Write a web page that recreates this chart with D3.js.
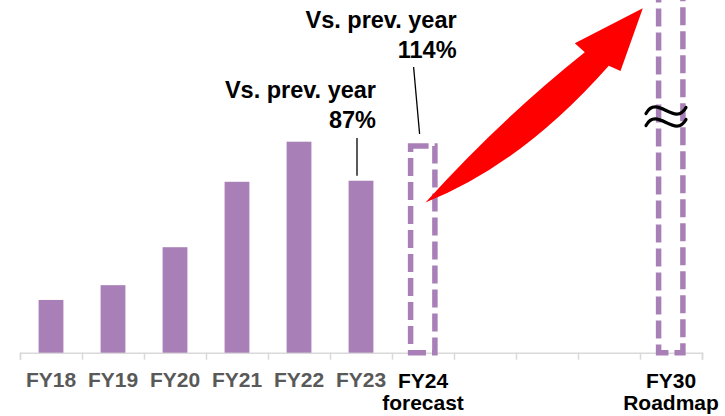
<!DOCTYPE html>
<html>
<head>
<meta charset="utf-8">
<script src="https://cdn.jsdelivr.net/npm/d3@7/dist/d3.min.js"></script>
<style>
  body { margin: 0; background: #fff; }
  svg { display: block; font-family: "Liberation Sans", Arial, sans-serif; }
</style>
</head>
<body>
<div id="chart"></div>
<script>
// categories on the x axis (3 empty slots between FY24 and FY30)
var categories = ["FY18", "FY19", "FY20", "FY21", "FY22", "FY23", "FY24", "gap1", "gap2", "gap3", "FY30"];

// actual results (solid bars)
var actualYears = ["FY18", "FY19", "FY20", "FY21", "FY22", "FY23"];
var actualValues = [25, 32, 50, 81, 100, 81.5];

// forecast / roadmap (dashed outlines)
var planYears = ["FY24", "FY30"];
var planValues = [98, 175];

// tick labels (first line, second line)
var tickLabels = ["FY18", "FY19", "FY20", "FY21", "FY22", "FY23", "FY24", "", "", "", "FY30"];
var tickSubLabels = ["", "", "", "", "", "", "forecast", "", "", "", "Roadmap"];

// year-on-year callouts
var calloutYears = ["FY23", "FY24"];
var calloutTexts = ["87%", "114%"];

var svgWidth = 725;
var svgHeight = 416;

var svg = d3.select("#chart")
    .append("svg")
    .attr("width", svgWidth)
    .attr("height", svgHeight);

var purple = "#a880b7";
var baseY = 352.7;

var x = d3.scaleBand()
    .domain(categories)
    .range([20, 702])
    .paddingInner(0.6)
    .paddingOuter(0.3);

var y = d3.scaleLinear()
    .domain([0, 100])
    .range([baseY, 141.7]);

// axis: ticks sit on the borders between categories
var edge = d3.scaleLinear()
    .domain([0, categories.length])
    .range([20, 702]);

var axis = svg.append("g")
    .attr("transform", `translate(0, ${baseY})`)
    .call(d3.axisBottom(edge)
        .tickValues(d3.range(categories.length + 1))
        .tickSize(7)
        .tickFormat(""));
axis.selectAll("path, line")
    .attr("stroke", "#d9d9d9")
    .attr("stroke-width", 1.5);

function cx(name) { return x(name) + x.bandwidth() / 2; }

// solid bars
var actual = actualYears.map((d, i) => ({ year: d, value: actualValues[i] }));
svg.selectAll("rect.bar")
    .data(actual)
    .enter()
    .append("rect")
    .attr("class", "bar")
    .attr("x", d => x(d.year))
    .attr("y", d => y(d.value))
    .attr("width", x.bandwidth())
    .attr("height", d => baseY - y(d.value))
    .attr("fill", purple);

// dashed outlines
var plan = planYears.map((d, i) => ({ year: d, value: planValues[i] }));
svg.selectAll("rect.plan")
    .data(plan)
    .enter()
    .append("rect")
    .attr("class", "plan")
    .attr("x", d => x(d.year))
    .attr("y", d => y(d.value))
    .attr("width", x.bandwidth() - 0.5)
    .attr("height", d => baseY - y(d.value))
    .attr("fill", "none")
    .attr("stroke", purple)
    .attr("stroke-width", 5.5)
    .attr("stroke-dasharray", "18 6");

// tick labels
var labels = svg.append("g")
    .attr("font-size", "21px")
    .attr("font-weight", "bold")
    .attr("text-anchor", "middle");

categories.forEach(function (c, i) {
    if (!tickLabels[i]) return;
    var isPlan = tickSubLabels[i] !== "";
    labels.append("text")
        .attr("x", cx(c))
        .attr("y", isPlan ? 387.7 : 386.5)
        .attr("fill", isPlan ? "#000" : "#595959")
        .text(tickLabels[i]);
    if (isPlan) {
        labels.append("text")
            .attr("x", cx(c))
            .attr("y", 410)
            .attr("fill", "#000")
            .text(tickSubLabels[i]);
    }
});

// callouts
var calloutOffsets = [15, 33.6];
var leader = [[-4, 138, -4, 175.7], [-9.4, 67, -3.4, 134]];
var textTop = [98.3, 28.3];
calloutYears.forEach(function (c, i) {
    var g = svg.append("g")
        .attr("font-size", "23.5px")
        .attr("font-weight", "bold")
        .attr("text-anchor", "end")
        .attr("fill", "#000");
    g.append("text")
        .attr("x", cx(c) + calloutOffsets[i])
        .attr("y", textTop[i])
        .text("Vs. prev. year");
    g.append("text")
        .attr("x", cx(c) + calloutOffsets[i])
        .attr("y", textTop[i] + 29.4)
        .text(calloutTexts[i]);
    svg.append("line")
        .attr("x1", cx(c) + leader[i][0])
        .attr("y1", leader[i][1])
        .attr("x2", cx(c) + leader[i][2])
        .attr("y2", leader[i][3])
        .attr("stroke", "#000")
        .attr("stroke-width", 1.3);
});

// red growth arrow, from FY24 towards FY30
var tx = cx("FY24") + 2.5, ty = 202.5;
var arrow = d3.path();
arrow.moveTo(tx, ty);
arrow.quadraticCurveTo(tx + 75, ty - 83, tx + 159.3, ty - 150.2);
arrow.lineTo(tx + 149.3, ty - 159.2);
arrow.lineTo(tx + 217.3, ty - 194.2);
arrow.lineTo(tx + 195, ty - 131.5);
arrow.lineTo(tx + 183.3, ty - 136.8);
arrow.quadraticCurveTo(tx + 96, ty - 38, tx, ty);
arrow.closePath();
svg.append("path")
    .attr("d", arrow.toString())
    .attr("fill", "#ff0000");

// break mark on the FY30 column
var bx = cx("FY30") - 5;
[110.5, 122.5].forEach(function (by) {
    svg.append("path")
        .attr("d", `M${bx - 20},${by + 3} C${bx - 9},${by - 17} ${bx + 9},${by + 17} ${bx + 20},${by - 3}`)
        .attr("fill", "none")
        .attr("stroke", "#000")
        .attr("stroke-width", 3.2)
        .attr("stroke-linecap", "round");
});
</script>
</body>
</html>
